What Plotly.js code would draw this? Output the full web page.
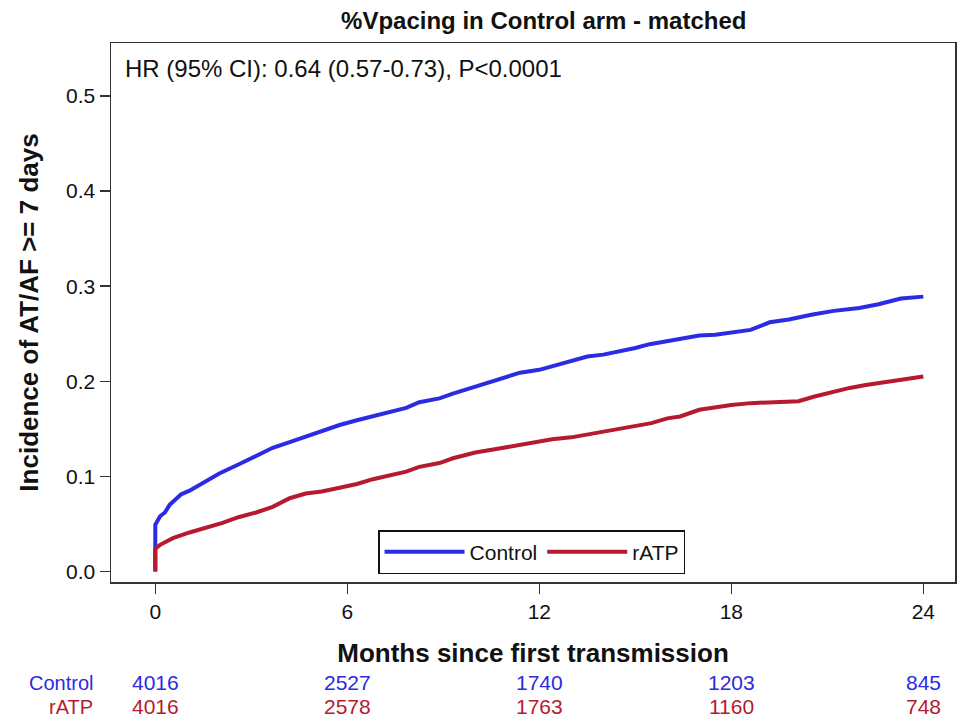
<!DOCTYPE html>
<html>
<head>
<meta charset="utf-8">
<script src="https://cdn.plot.ly/plotly-3.0.1.min.js"></script>
<style>html,body{margin:0;padding:0;background:#fff;}#chart{width:959px;height:718px;}</style>
</head>
<body>
<div id="chart"></div>
<script>
// Kaplan-Meier style cumulative incidence (months since first transmission)
const controlMonths = [0, 0, 0.15, 0.3, 0.45, 0.65, 0.8, 1.07, 1.38, 1.6, 2.0, 2.63, 3.2, 3.67, 4.2, 4.7, 5.2, 5.76, 6.3, 6.8, 7.3, 7.84, 8.25, 8.88, 9.3, 9.8, 10.34, 10.9, 11.4, 12.0, 12.4, 13.0, 13.5, 14.0, 14.5, 15.0, 15.45, 16.0, 16.4, 17.0, 17.5, 18.0, 18.6, 19.2, 19.8, 20.5, 21.2, 22.0, 22.6, 23.3, 24.0];
const controlIncidence = [0, 0.049, 0.058, 0.062, 0.070, 0.076, 0.081, 0.085, 0.091, 0.096, 0.103, 0.113, 0.122, 0.130, 0.136, 0.142, 0.147, 0.154, 0.159, 0.163, 0.168, 0.172, 0.178, 0.182, 0.187, 0.192, 0.198, 0.203, 0.209, 0.212, 0.216, 0.221, 0.226, 0.228, 0.231, 0.235, 0.239, 0.242, 0.244, 0.248, 0.249, 0.251, 0.254, 0.262, 0.265, 0.270, 0.274, 0.277, 0.281, 0.287, 0.289];
const ratpMonths = [0, 0, 0.15, 0.55, 1.07, 1.6, 2.1, 2.6, 3.15, 3.67, 4.2, 4.7, 5.2, 5.76, 6.3, 6.8, 7.3, 7.84, 8.25, 8.88, 9.3, 10.0, 10.7, 11.4, 12.0, 12.4, 13.0, 13.5, 14.0, 14.5, 15.0, 15.5, 16.0, 16.4, 17.0, 17.5, 18.0, 18.6, 19.3, 20.1, 20.6, 21.2, 21.7, 22.2, 22.8, 23.3, 24.0];
const ratpIncidence = [0, 0.024, 0.028, 0.035, 0.041, 0.046, 0.051, 0.057, 0.062, 0.068, 0.077, 0.082, 0.084, 0.088, 0.092, 0.097, 0.101, 0.105, 0.110, 0.114, 0.119, 0.125, 0.129, 0.133, 0.136, 0.139, 0.141, 0.144, 0.147, 0.149, 0.153, 0.156, 0.161, 0.163, 0.170, 0.173, 0.175, 0.177, 0.178, 0.179, 0.184, 0.189, 0.193, 0.196, 0.199, 0.202, 0.205];

// Number at risk table
const riskMonths = [0, 6, 12, 18, 24];
const controlAtRisk = [4016, 2527, 1740, 1203, 845];
const ratpAtRisk = [4016, 2578, 1763, 1160, 748];

const seriesNames = ['Control', 'rATP'];
const xTicks = [0, 6, 12, 18, 24];
const yTicks = [0, 0.1, 0.2, 0.3, 0.4, 0.5];
const yTickText = ['0.0', '0.1', '0.2', '0.3', '0.4', '0.5'];

const titleText = '%Vpacing in Control arm - matched';
const hrText = 'HR (95% CI): 0.64 (0.57-0.73), P<0.0001';

const BLUE = '#2b2be3';
const RED = '#b51a30';
const FONT = 'Liberation Sans, Arial, sans-serif';

const traces = [
  {x: controlMonths, y: controlIncidence, name: seriesNames[0], type: 'scatter', mode: 'lines',
   line: {color: BLUE, width: 4, shape: 'linear'}},
  {x: ratpMonths, y: ratpIncidence, name: seriesNames[1], type: 'scatter', mode: 'lines',
   line: {color: RED, width: 4, shape: 'linear'}}
];

const annotations = [
  {text: hrText, xref: 'paper', yref: 'paper', x: 0.0142, y: 0.9536, xanchor: 'left', yanchor: 'middle',
   showarrow: false, font: {family: FONT, size: 24, color: '#111'}},
  {text: seriesNames[0], xref: 'paper', yref: 'paper', x: -0.019, y: -0.1867, xanchor: 'right', yanchor: 'middle',
   showarrow: false, font: {family: FONT, size: 20, color: BLUE}},
  {text: seriesNames[1], xref: 'paper', yref: 'paper', x: -0.019, y: -0.2312, xanchor: 'right', yanchor: 'middle',
   showarrow: false, font: {family: FONT, size: 20, color: RED}}
];
riskMonths.forEach((m, i) => {
  annotations.push({text: String(controlAtRisk[i]), x: m, xref: 'x', yref: 'paper', y: -0.1867,
    xanchor: 'center', yanchor: 'middle', showarrow: false, font: {family: FONT, size: 21, color: BLUE}});
  annotations.push({text: String(ratpAtRisk[i]), x: m, xref: 'x', yref: 'paper', y: -0.2312,
    xanchor: 'center', yanchor: 'middle', showarrow: false, font: {family: FONT, size: 21, color: RED}});
});

const layout = {
  width: 959, height: 718,
  margin: {l: 111, r: 4, t: 43, b: 136},
  paper_bgcolor: '#fff', plot_bgcolor: '#fff',
  font: {family: FONT, color: '#111'},
  title: {text: '<b>' + titleText + '</b>', x: 0.567, xanchor: 'center', xref: 'container',
          y: 0.972, yanchor: 'middle', yref: 'container', font: {family: FONT, size: 24, color: '#111'}},
  xaxis: {range: [-1.384, 24.99], tickvals: xTicks, ticktext: xTicks.map(String),
          showline: true, mirror: true, linecolor: '#333', linewidth: 1.5,
          ticks: 'outside', ticklen: 10, tickwidth: 1.5, tickcolor: '#333',
          showgrid: false, zeroline: false, tickfont: {family: FONT, size: 21, color: '#111'},
          title: {text: '<b>Months since first transmission</b>', standoff: 22,
                  font: {family: FONT, size: 26, color: '#111'}}},
  yaxis: {range: [-0.0111, 0.5557], tickvals: yTicks, ticktext: yTickText,
          showline: true, mirror: true, linecolor: '#333', linewidth: 1.5,
          ticks: 'outside', ticklen: 10, tickwidth: 1.5, tickcolor: '#333',
          showgrid: false, zeroline: false, tickfont: {family: FONT, size: 21, color: '#111'},
          title: {text: '<b>Incidence of AT/AF >= 7 days</b>', standoff: 20,
                  font: {family: FONT, size: 26, color: '#111'}}},
  showlegend: true,
  legend: {orientation: 'h', x: 0.3164, xanchor: 'left', y: 0.0148, yanchor: 'bottom',
           bordercolor: '#111', borderwidth: 1.5, bgcolor: '#fff', itemwidth: 80,
           font: {family: FONT, size: 21, color: '#111'}},
  annotations: annotations
};

Plotly.newPlot('chart', traces, layout, {displayModeBar: false, staticPlot: true});
</script>
</body>
</html>
